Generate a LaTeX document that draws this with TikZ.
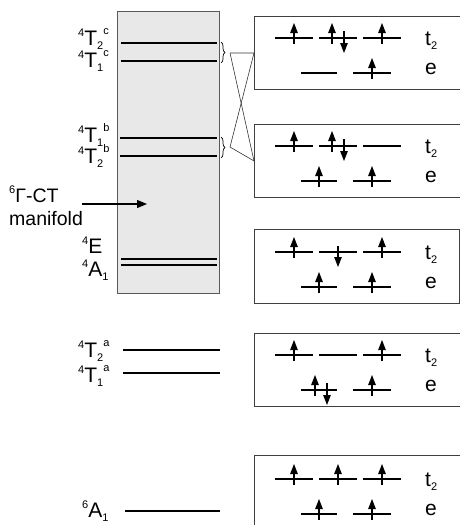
\documentclass[tikz,border=0pt]{standalone}
\usepackage{fontspec}
\setmainfont{Liberation Sans}
\usetikzlibrary{arrows.meta,decorations.pathreplacing}
\newcommand\smallfs{\fontsize{11}{11}\selectfont}
\newcommand\lsup[1]{\raisebox{9pt}{\smallfs #1}}
\newcommand\lsub[1]{\raisebox{-4pt}{\smallfs #1}}
\newcommand\lsupx[1]{\raisebox{11pt}{\smallfs #1}}
\newcommand\spinup[2]{\draw[spin] (#1,#2+6) -- (#1,#2-15);}
\newcommand\spindn[2]{\draw[spin] (#1,#2-6) -- (#1,#2+15);}
\newcommand\spinpr[2]{\draw[spin] (#1-6,#2+6) -- (#1-6,#2-15);\draw[spin] (#1+6,#2-7) -- (#1+6,#2+15);}
\newcommand\tlines[1]{\draw[orb] (275,#1) -- (313,#1) (319,#1) -- (357,#1) (363,#1) -- (401,#1);}
\newcommand\elines[1]{\draw[orb] (301,#1) -- (337,#1) (353,#1) -- (391,#1);}
\begin{document}
\begin{tikzpicture}[x=1pt,y=-1pt,
  lvl/.style={line width=1.8pt, black},
  orb/.style={line width=1.6pt, black},
  spin/.style={line width=1.2pt, -{Triangle[length=10pt,width=7.5pt]}},
  cfgbox/.style={draw=black!75, line width=0.9pt, minimum height=73pt, minimum width=210pt, anchor=north west, inner sep=0pt},
  statelbl/.style={font=\fontsize{21}{24}\selectfont, anchor=base west, inner sep=0pt},
  orblbl/.style={font=\fontsize{21}{24}\selectfont, anchor=base west, inner sep=0pt},
  link/.style={line width=0.6pt, black!80},
  bracestyle/.style={line width=0.7pt, decorate, decoration={brace, amplitude=4pt}}]
\useasboundingbox (0,0) rectangle (460,525);

% CT manifold region
\filldraw[fill=gray!18, draw=black!65, line width=0.8pt] (117,11) rectangle (219,293);
\draw[lvl] (121,43) -- (217,43);
\draw[lvl] (121,61) -- (217,61);
\draw[lvl] (120,138) -- (217,138);
\draw[lvl] (120,156) -- (217,156);
\draw[lvl] (121,259) -- (217,259);
\draw[lvl] (121,265) -- (217,265);
\draw[lvl] (123,350) -- (220,350);
\draw[lvl] (123,373) -- (220,373);
\draw[lvl] (125,511) -- (220,511);

% state labels
\node[statelbl] (T2c) at (78,45) {\lsup{4}T\lsub{2}\lsupx{c}};
\node[statelbl] (T1c) at (78,67) {\lsup{4}T\lsub{1}\lsupx{c}};
\node[statelbl] (T1b) at (78,142) {\lsup{4}T\lsub{1}\lsupx{b}};
\node[statelbl] (T2b) at (78,163) {\lsup{4}T\lsub{2}\lsupx{b}};
\node[statelbl] (E4) at (82,253) {\lsup{4}E};
\node[statelbl] (A14) at (82,276) {\lsup{4}A\lsub{1}};
\node[statelbl] (T2a) at (78,357) {\lsup{4}T\lsub{2}\lsupx{a}};
\node[statelbl] (T1a) at (78,382) {\lsup{4}T\lsub{1}\lsupx{a}};
\node[statelbl] (A16) at (82,517) {\lsup{6}A\lsub{1}};

% manifold label and arrow
\node[font=\fontsize{19.5}{23}\selectfont, anchor=north west, align=left, inner sep=0pt] (ct) at (9,186) {\lsup{6}Γ-CT\\manifold};
\coordinate (ma) at (82,204);
\coordinate (mb) at (147,204);
\draw[line width=1.2pt, -{Triangle[length=10pt,width=8pt]}] (ma) -- (mb);

% configuration boxes
\node[cfgbox] (b1) at (254,16) {};
\node[cfgbox] (b2) at (254,124) {};
\node[cfgbox, minimum width=205pt, minimum height=74pt] (b3) at (254,229) {};
\node[cfgbox] (b4) at (254,333) {};
\node[cfgbox, minimum height=90pt] (b5) at (254,455) {};

% braces and links
\draw[bracestyle] (221,42) -- (221,63);
\draw[bracestyle] (221,137) -- (221,158);
\coordinate (bc) at (230,53);
\coordinate (bb) at (230,147);
\draw[link] (bc) -- (b1.west);
\draw[link] (bc) -- (b2.west);
\draw[link] (bb) -- (b1.west);
\draw[link] (bb) -- (b2.west);

% box 1
\tlines{38} \elines{73}
\spinup{294}{38} \spinpr{338}{38} \spinup{382}{38}
\spinup{372}{73}
\node[orblbl] (t1) at (425,45) {t\lsub{2}};
\node[orblbl] (e1) at (425,74) {e};

% box 2
\tlines{146} \elines{181}
\spinup{294}{146} \spinpr{338}{146}
\spinup{319}{181} \spinup{372}{181}
\node[orblbl] (t2) at (425,153) {t\lsub{2}};
\node[orblbl] (e2) at (425,182) {e};

% box 3
\tlines{252} \elines{287}
\spinup{294}{252} \spindn{338}{252} \spinup{382}{252}
\spinup{319}{287} \spinup{372}{287}
\node[orblbl] (t3) at (425,259) {t\lsub{2}};
\node[orblbl] (e3) at (425,288) {e};

% box 4
\tlines{355} \elines{390}
\spinup{294}{355} \spinup{382}{355}
\spinpr{321}{390} \spinup{372}{390}
\node[orblbl] (t4) at (425,362) {t\lsub{2}};
\node[orblbl] (e4) at (425,391) {e};

% box 5
\tlines{479} \elines{514}
\spinup{294}{479} \spinup{338}{479} \spinup{382}{479}
\spinup{319}{514} \spinup{372}{514}
\node[orblbl] (t5) at (425,486) {t\lsub{2}};
\node[orblbl] (e5) at (425,515) {e};
\end{tikzpicture}
\end{document}
